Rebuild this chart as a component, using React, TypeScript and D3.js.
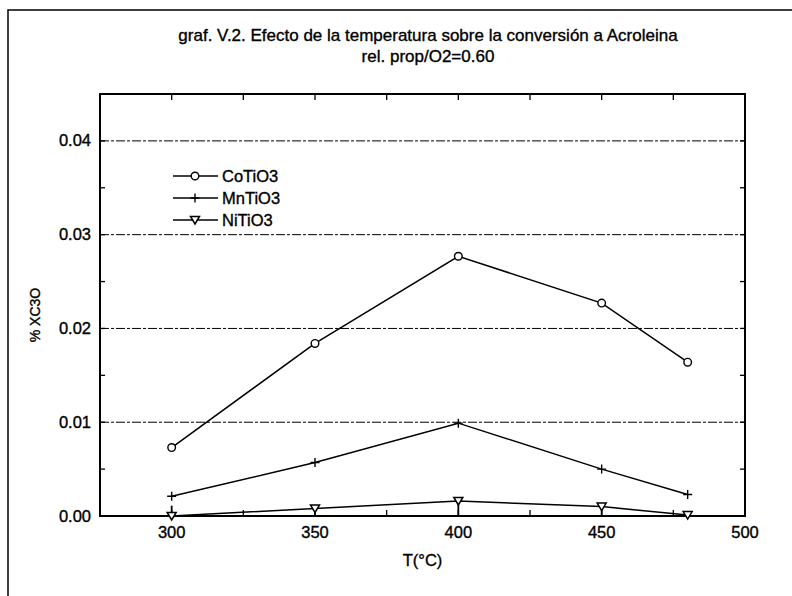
import React from "react";
import * as d3 from "d3";

// data
const temps = [300, 350, 400, 450, 480];
const coTiO3 = [0.0073, 0.0184, 0.0277, 0.0227, 0.0164];
const mnTiO3 = [0.0021, 0.0057, 0.0099, 0.005, 0.0023];
const niTiO3 = [0.0, 0.0008, 0.0016, 0.001, 0.0001];
const niLow = [0, 0, 0, 0, 0];
const niHigh = [0.0011, 0.0008, 0.0016, 0.001, 0.0001];
const seriesNames = ["CoTiO3", "MnTiO3", "NiTiO3"];
const xTicks = [300, 350, 400, 450, 500];
const yTicks = [0, 0.01, 0.02, 0.03, 0.04];

const W = 792, H = 596;
const margin = { top: 94, right: 47, bottom: 80, left: 100 };
const font = "'Liberation Sans', Arial, Helvetica, sans-serif";
const ink = { fill: "black", stroke: "black", strokeWidth: 0.35 };

const Marker = ({ kind, x, y }) => {
  if (kind === 0) return <circle cx={x} cy={y} r={3.8} fill="white" stroke="black" strokeWidth={1.4} />;
  if (kind === 1)
    return (
      <path d={`M${x - 4.5},${y}H${x + 4.5}M${x},${y - 4.5}V${y + 4.5}`} stroke="black" strokeWidth={1.4} />
    );
  return (
    <path
      d={`M${x - 4.5},${y - 3.5}L${x + 4.5},${y - 3.5}L${x},${y + 4}Z`}
      fill="white"
      stroke="black"
      strokeWidth={1.5}
    />
  );
};

const App = () => {
  const x = d3.scaleLinear().domain([275, 500]).range([margin.left, W - margin.right]);
  const y = d3.scaleLinear().domain([0, 0.045]).range([H - margin.bottom, margin.top]);
  const line = d3
    .line()
    .x(d => x(d[0]))
    .y(d => y(d[1]));
  const all = [coTiO3, mnTiO3, niTiO3];
  const x0 = x.range()[0], x1 = x.range()[1];
  const y0 = y.range()[0], y1 = y.range()[1];
  const minorX = d3.range(300, 500, 25);
  const minorY = d3.range(0.005, 0.045, 0.005);

  return (
    <svg width={W} height={H} style={{ position: "absolute", left: 0, top: 0 }} fontFamily={font}>
      <rect width={W} height={H} fill="white" />
      {/* scanned page frame */}
      <path d={`M8,${H}V10H${W}`} fill="none" stroke="black" strokeWidth={1.5} />

      <text x={428} y={41} textAnchor="middle" fontSize={17} {...ink}>
        graf. V.2. Efecto de la temperatura sobre la conversión a Acroleina
      </text>
      <text x={428} y={62} textAnchor="middle" fontSize={17} {...ink}>
        rel. prop/O2=0.60
      </text>

      {/* gridlines */}
      {yTicks.filter(t => t > 0).map(t => (
        <line key={t} x1={x0} x2={x1} y1={y(t)} y2={y(t)} stroke="black" strokeWidth={1} strokeDasharray="9 2 3 2" />
      ))}

      {/* ticks, inward on all four sides */}
      {minorX.map(t => (
        <g key={"tx" + t}>
          <line x1={x(t)} x2={x(t)} y1={y1} y2={y1 + 6} stroke="black" strokeWidth={1.3} />
          <line x1={x(t)} x2={x(t)} y1={y0} y2={y0 - 6} stroke="black" strokeWidth={1.3} />
        </g>
      ))}
      {minorY.map(t => (
        <g key={"ty" + t}>
          <line x1={x0} x2={x0 + 5} y1={y(t)} y2={y(t)} stroke="black" strokeWidth={1.3} />
          <line x1={x1} x2={x1 - 5} y1={y(t)} y2={y(t)} stroke="black" strokeWidth={1.3} />
        </g>
      ))}

      <rect x={x0} y={y1} width={x1 - x0} height={y0 - y1} fill="none" stroke="black" strokeWidth={2} />

      {xTicks.map(t => (
        <text key={t} x={x(t)} y={538} textAnchor="middle" fontSize={16.5} {...ink}>
          {t}
        </text>
      ))}
      {yTicks.map(t => (
        <text key={t} x={91} y={y(t) + 5.5} textAnchor="end" fontSize={16.5} {...ink}>
          {d3.format(".2f")(t)}
        </text>
      ))}
      <text x={(x0 + x1) / 2} y={566} textAnchor="middle" fontSize={16.5} {...ink}>
        T(°C)
      </text>
      <text transform="translate(40,315) rotate(-90)" textAnchor="middle" fontSize={14} {...ink}>
        % XC3O
      </text>

      {/* NiTiO3 error stems */}
      {temps.map((t, i) => (
        <line key={"e" + t} x1={x(t)} x2={x(t)} y1={y(niLow[i])} y2={y(niHigh[i])} stroke="black" strokeWidth={1.8} />
      ))}

      {all.map((s, k) => (
        <g key={k}>
          <path d={line(temps.map((t, i) => [t, s[i]]))} fill="none" stroke="black" strokeWidth={1.5} />
          {temps.map((t, i) => (
            <Marker key={t} kind={k} x={x(t)} y={y(s[i])} />
          ))}
        </g>
      ))}

      {/* legend */}
      {seriesNames.map((n, k) => {
        const ly = 176 + k * 22;
        return (
          <g key={n}>
            <line x1={173} x2={218} y1={ly} y2={ly} stroke="black" strokeWidth={1.5} />
            <Marker kind={k} x={195} y={ly} />
            <text x={222} y={ly + 6} fontSize={16.5} {...ink}>
              {n}
            </text>
          </g>
        );
      })}
    </svg>
  );
};

export default App;
